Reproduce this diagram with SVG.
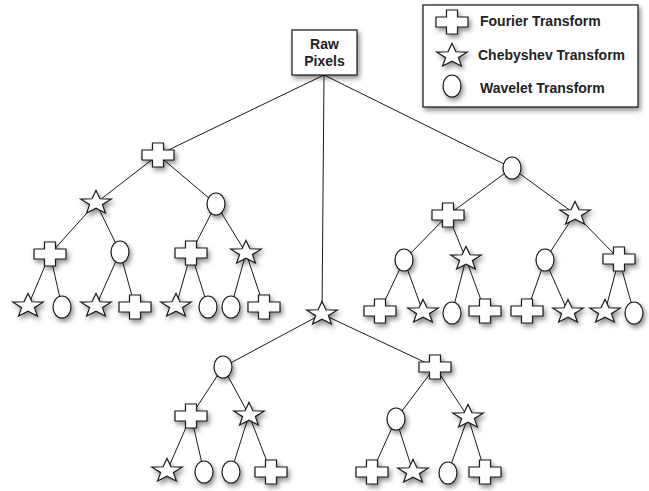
<svg xmlns="http://www.w3.org/2000/svg" xmlns:xlink="http://www.w3.org/1999/xlink" width="649" height="491" viewBox="0 0 649 491">
<style>
.sh{fill:#fff;stroke:#1a1a1a;stroke-width:1.2;filter:url(#ds)}
.edge{stroke:#1a1a1a;stroke-width:1;fill:none}
.t{font-family:"Liberation Sans",Arial,sans-serif;font-weight:bold;font-size:14px;fill:#222}
</style>
<defs>
<filter id="ds" x="-50%" y="-50%" width="200%" height="200%">
<feDropShadow dx="2" dy="3" stdDeviation="2.5" flood-color="#000" flood-opacity="0.45"/>
</filter>
<path id="plus" d="M-5.5,-12 H5.5 V-5 H16 V5 H5.5 V12 H-5.5 V5 H-16 V-5 H-5.5 Z"/>
<path id="star" d="M0,-12.5 L3.95,-4.25 L15.22,-3.86 L6.39,1.62 L9.4,10.11 L0,5.25 L-9.4,10.11 L-6.39,1.62 L-15.22,-3.86 L-3.95,-4.25 Z"/>
<ellipse id="oval" cx="0" cy="0" rx="9" ry="11"/>
</defs>
<rect width="649" height="491" fill="#fff"/>
<g id="connectors" class="edge">
<path d="M324,75 L158,155 M324,75 L322,314 M324,75 L512,168"/>
<path d="M158,155 L96,203 M158,155 L216,204 M96,203 L50,254 M96,203 L120,252 M216,204 L191,253 M216,204 L246,253 M50,254 L28,306 M50,254 L62,307 M120,252 L96,306 M120,252 L135,307 M191,253 L176,306 M191,253 L208,307 M246,253 L231,307 M246,253 L264,307"/>
<path d="M512,168 L448,215 M512,168 L575,214 M448,215 L404,260 M448,215 L466,259 M575,214 L545,260 M575,214 L619,259 M404,260 L380,311 M404,260 L423,312 M466,259 L452,313 M466,259 L485,311 M545,260 L527,311 M545,260 L568,312 M619,259 L605,312 M619,259 L634,313"/>
<path d="M322,314 L223,367 M322,314 L435,367 M223,367 L191,416 M223,367 L249,415 M435,367 L396,419 M435,367 L468,417 M191,416 L167,471 M191,416 L204,472 M249,415 L231,472 M249,415 L271,472 M396,419 L372,472 M396,419 L413,472 M468,417 L448,473 M468,417 L485,472"/>
</g>
<g id="root"><rect class="sh" x="292" y="30" width="65" height="45"/><text class="t" x="324.5" y="49" text-anchor="middle">Raw</text><text class="t" x="324.5" y="66" text-anchor="middle">Pixels</text></g>
<g id="legend">
<rect class="sh" x="423" y="5" width="215" height="102"/>
<use class="sh" href="#plus" x="452" y="22"/>
<use class="sh" href="#star" x="452" y="56"/>
<use class="sh" href="#oval" x="452" y="86" transform="translate(0,0)"/>
<text class="t" x="480" y="26">Fourier Transform</text>
<text class="t" x="478" y="60">Chebyshev Transform</text>
<text class="t" x="480" y="93">Wavelet Transform</text>
</g>
<g id="n-l1"><use class="sh" href="#plus" x="158" y="155"/></g>
<g id="n-l2a"><use class="sh" href="#star" x="96" y="203"/></g>
<g id="n-l2b"><use class="sh" href="#oval" x="216" y="204"/></g>
<g id="n-l3a"><use class="sh" href="#plus" x="50" y="254"/></g>
<g id="n-l3b"><use class="sh" href="#oval" x="120" y="252"/></g>
<g id="n-l3c"><use class="sh" href="#plus" x="191" y="253"/></g>
<g id="n-l3d"><use class="sh" href="#star" x="246" y="253"/></g>
<g id="n-l4a"><use class="sh" href="#star" x="28" y="306"/></g>
<g id="n-l4b"><use class="sh" href="#oval" x="62" y="307"/></g>
<g id="n-l4c"><use class="sh" href="#star" x="96" y="306"/></g>
<g id="n-l4d"><use class="sh" href="#plus" x="135" y="307"/></g>
<g id="n-l4e"><use class="sh" href="#star" x="176" y="306"/></g>
<g id="n-l4f"><use class="sh" href="#oval" x="208" y="307"/></g>
<g id="n-l4g"><use class="sh" href="#oval" x="231" y="307"/></g>
<g id="n-l4h"><use class="sh" href="#plus" x="264" y="307"/></g>
<g id="n-r1"><use class="sh" href="#oval" x="512" y="168"/></g>
<g id="n-r2a"><use class="sh" href="#plus" x="448" y="215"/></g>
<g id="n-r2b"><use class="sh" href="#star" x="575" y="214"/></g>
<g id="n-r3a"><use class="sh" href="#oval" x="404" y="260"/></g>
<g id="n-r3b"><use class="sh" href="#star" x="466" y="259"/></g>
<g id="n-r3c"><use class="sh" href="#oval" x="545" y="260"/></g>
<g id="n-r3d"><use class="sh" href="#plus" x="619" y="259"/></g>
<g id="n-r4a"><use class="sh" href="#plus" x="380" y="311"/></g>
<g id="n-r4b"><use class="sh" href="#star" x="423" y="312"/></g>
<g id="n-r4c"><use class="sh" href="#oval" x="452" y="313"/></g>
<g id="n-r4d"><use class="sh" href="#plus" x="485" y="311"/></g>
<g id="n-r4e"><use class="sh" href="#plus" x="527" y="311"/></g>
<g id="n-r4f"><use class="sh" href="#star" x="568" y="312"/></g>
<g id="n-r4g"><use class="sh" href="#star" x="605" y="312"/></g>
<g id="n-r4h"><use class="sh" href="#oval" x="634" y="313"/></g>
<g id="n-c1"><use class="sh" href="#star" x="322" y="314"/></g>
<g id="n-c2a"><use class="sh" href="#oval" x="223" y="367"/></g>
<g id="n-c2b"><use class="sh" href="#plus" x="435" y="367"/></g>
<g id="n-c3a"><use class="sh" href="#plus" x="191" y="416"/></g>
<g id="n-c3b"><use class="sh" href="#star" x="249" y="415"/></g>
<g id="n-c3c"><use class="sh" href="#oval" x="396" y="419"/></g>
<g id="n-c3d"><use class="sh" href="#star" x="468" y="417"/></g>
<g id="n-c4a"><use class="sh" href="#star" x="167" y="471"/></g>
<g id="n-c4b"><use class="sh" href="#oval" x="204" y="472"/></g>
<g id="n-c4c"><use class="sh" href="#oval" x="231" y="472"/></g>
<g id="n-c4d"><use class="sh" href="#plus" x="271" y="472"/></g>
<g id="n-c4e"><use class="sh" href="#plus" x="372" y="472"/></g>
<g id="n-c4f"><use class="sh" href="#star" x="413" y="472"/></g>
<g id="n-c4g"><use class="sh" href="#oval" x="448" y="473"/></g>
<g id="n-c4h"><use class="sh" href="#plus" x="485" y="472"/></g>
</svg>
